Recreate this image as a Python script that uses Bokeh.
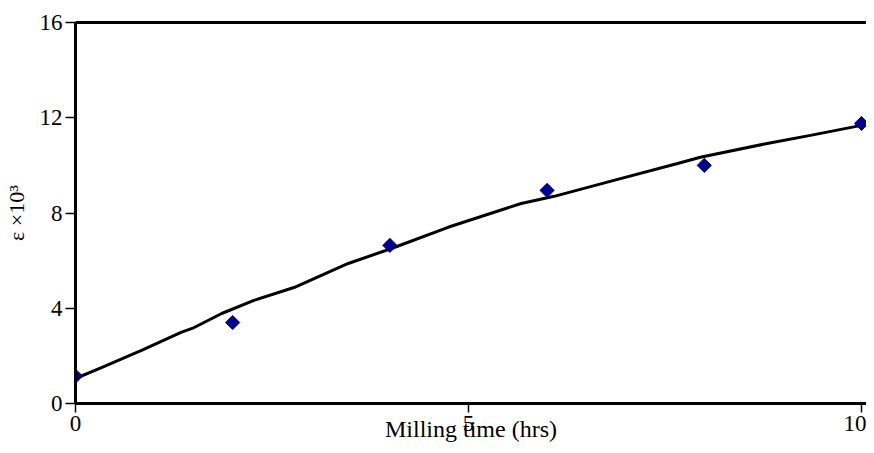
import numpy as np
from bokeh.plotting import figure
from bokeh.models import LinearAxis, FixedTicker, Range1d
from bokeh.embed import file_html
from bokeh.resources import INLINE

# measured points
time_hrs = [0, 2, 4, 6, 8, 10]
strain = [1.15, 3.4, 6.64, 8.95, 10.0, 11.76]

# fitted curve
fit_x = [0, 0.33, 0.84, 1.35, 1.51, 1.86, 2.27, 2.78, 3.47, 4.02, 4.74, 5.67, 6.09, 6.85, 7.66, 7.95, 8.8, 9.35, 10.0]
fit_y = [1.05, 1.51, 2.23, 3.0, 3.19, 3.78, 4.33, 4.87, 5.88, 6.51, 7.4, 8.4, 8.7, 9.37, 10.08, 10.34, 10.92, 11.26, 11.68]

x_ticks = [0, 5, 10]
y_ticks = [0, 4, 8, 12, 16]

FONT = "Liberation Serif"

p = figure(width=866, height=445, output_backend="svg", toolbar_location=None,
           x_range=Range1d(0, 10.064), y_range=Range1d(0, 16),
           min_border_left=74, min_border_right=0, min_border_top=22, min_border_bottom=42)
p.outline_line_color = None
p.grid.grid_line_color = None
p.background_fill_color = "white"
p.border_fill_color = "white"

for ax in (p.xaxis[0], p.yaxis[0]):
    ax.axis_line_width = 3
    ax.axis_line_color = "black"
    ax.major_tick_line_width = 1.5
    ax.major_tick_line_color = "black"
    ax.major_tick_in = 0
    ax.minor_tick_line_color = None
    ax.major_label_text_font = FONT
    ax.major_label_text_font_size = "23px"
    ax.major_label_text_color = "black"
    ax.axis_label_text_font = FONT
    ax.axis_label_text_font_style = "normal"
    ax.axis_label_text_color = "black"

p.xaxis.ticker = FixedTicker(ticks=x_ticks)
p.yaxis.ticker = FixedTicker(ticks=y_ticks)
p.xaxis.major_tick_out = 9
p.yaxis.major_tick_out = 10
p.xaxis.major_label_standoff = 3
p.yaxis.major_label_standoff = 3

p.yaxis.axis_label = "ε ×10³"
p.yaxis.axis_label_text_font_size = "22px"
p.yaxis.axis_label_standoff = 8

p.xaxis.axis_label = "Milling time (hrs)"
p.xaxis.axis_label_text_font_size = "24px"
p.xaxis.axis_label_standoff = -18

top = LinearAxis(ticker=FixedTicker(ticks=[]), axis_line_width=3, axis_line_color="black",
                 major_tick_line_color=None, minor_tick_line_color=None,
                 major_label_text_font_size="0px")
p.add_layout(top, "above")

p.line(fit_x, fit_y, line_color="black", line_width=3)
p.scatter(time_hrs, strain, marker="square", angle=np.pi / 4, size=10,
          fill_color="#000088", line_color="#000088")

open("out.html", "w").write(file_html(p, INLINE))
